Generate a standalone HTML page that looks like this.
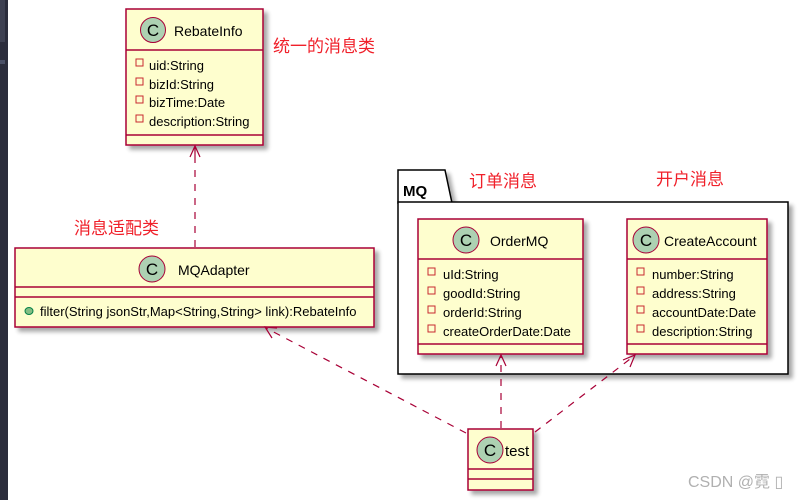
<!DOCTYPE html>
<html><head><meta charset="utf-8"><style>
html,body{margin:0;padding:0;background:#fff;}
svg{display:block;}
text{font-family:"Liberation Sans","Noto Sans CJK SC",sans-serif;}
</style></head><body>
<svg width="809" height="500" viewBox="0 0 809 500" xmlns="http://www.w3.org/2000/svg">
<defs>
<filter id="sh" x="-10%" y="-10%" width="130%" height="130%"><feGaussianBlur in="SourceAlpha" stdDeviation="2"/><feOffset dx="4" dy="4"/><feComponentTransfer><feFuncA type="linear" slope="0.35"/></feComponentTransfer><feMerge><feMergeNode/><feMergeNode in="SourceGraphic"/></feMerge></filter>
</defs>
<rect x="0" y="0" width="809" height="500" fill="#fff"/>
<rect x="0" y="0" width="8" height="500" fill="#2b2d3c"/>
<rect x="0" y="0" width="5" height="42" fill="#3e4152"/>
<rect x="0" y="60" width="5" height="4" fill="#4a5066"/>

<g filter="url(#sh)">
<path d="M398,203 L398,170 L445,170 L452,203 Z" fill="#fff" stroke="#000" stroke-width="1.5"/>
<rect x="398" y="202" width="390" height="172" fill="#fff" stroke="#000" stroke-width="1.5"/>
</g>
<text x="403" y="196" font-size="15" font-weight="bold">MQ</text>

<g filter="url(#sh)"><rect x="126" y="9" width="137" height="136" fill="#fefece" stroke="#a80036" stroke-width="1.5"/></g>
<line x1="126" y1="50" x2="263" y2="50" stroke="#a80036" stroke-width="1.5"/>
<line x1="126" y1="135" x2="263" y2="135" stroke="#a80036" stroke-width="1.5"/>
<circle cx="153" cy="30" r="12.5" fill="#add1b2" stroke="#a80036" stroke-width="1"/>
<text x="153" y="36" font-size="17" text-anchor="middle">C</text>
<text x="174" y="36" font-size="14">RebateInfo</text>
<g font-size="13">
<rect x="136" y="59" width="7" height="7" fill="none" stroke="#c82930"/><text x="149" y="70">uid:String</text>
<rect x="136" y="78" width="7" height="7" fill="none" stroke="#c82930"/><text x="149" y="89">bizId:String</text>
<rect x="136" y="96" width="7" height="7" fill="none" stroke="#c82930"/><text x="149" y="107">bizTime:Date</text>
<rect x="136" y="115" width="7" height="7" fill="none" stroke="#c82930"/><text x="149" y="126">description:String</text>
</g>
<text x="273" y="52" font-size="17" fill="#f0202a">统一的消息类</text>

<g filter="url(#sh)"><rect x="15" y="248" width="359" height="79" fill="#fefece" stroke="#a80036" stroke-width="1.5"/></g>
<line x1="15" y1="287" x2="374" y2="287" stroke="#a80036" stroke-width="1.5"/>
<line x1="15" y1="297" x2="374" y2="297" stroke="#a80036" stroke-width="1.5"/>
<circle cx="152" cy="269" r="13" fill="#add1b2" stroke="#a80036" stroke-width="1"/>
<text x="152" y="275" font-size="17" text-anchor="middle">C</text>
<text x="178" y="275" font-size="14">MQAdapter</text>
<ellipse cx="29" cy="311" rx="4" ry="3.5" fill="#84be84" stroke="#038048"/>
<text x="40" y="316" font-size="13">filter(String jsonStr,Map&lt;String,String&gt; link):RebateInfo</text>
<text x="74" y="234" font-size="17" fill="#f0202a">消息适配类</text>

<g filter="url(#sh)"><rect x="418" y="219" width="165" height="135" fill="#fefece" stroke="#a80036" stroke-width="1.5"/></g>
<line x1="418" y1="259" x2="583" y2="259" stroke="#a80036" stroke-width="1.5"/>
<line x1="418" y1="344" x2="583" y2="344" stroke="#a80036" stroke-width="1.5"/>
<circle cx="466" cy="240" r="13" fill="#add1b2" stroke="#a80036" stroke-width="1"/>
<text x="466" y="246" font-size="17" text-anchor="middle">C</text>
<text x="490" y="246" font-size="14">OrderMQ</text>
<g font-size="13">
<rect x="428" y="268" width="7" height="7" fill="none" stroke="#c82930"/><text x="443" y="279">uId:String</text>
<rect x="428" y="287" width="7" height="7" fill="none" stroke="#c82930"/><text x="443" y="298">goodId:String</text>
<rect x="428" y="306" width="7" height="7" fill="none" stroke="#c82930"/><text x="443" y="317">orderId:String</text>
<rect x="428" y="325" width="7" height="7" fill="none" stroke="#c82930"/><text x="443" y="336">createOrderDate:Date</text>
</g>
<text x="469" y="187" font-size="17" fill="#f0202a">订单消息</text>

<g filter="url(#sh)"><rect x="627" y="219" width="140" height="135" fill="#fefece" stroke="#a80036" stroke-width="1.5"/></g>
<line x1="627" y1="259" x2="767" y2="259" stroke="#a80036" stroke-width="1.5"/>
<line x1="627" y1="344" x2="767" y2="344" stroke="#a80036" stroke-width="1.5"/>
<circle cx="646" cy="240" r="13" fill="#add1b2" stroke="#a80036" stroke-width="1"/>
<text x="646" y="246" font-size="17" text-anchor="middle">C</text>
<text x="664" y="246" font-size="14">CreateAccount</text>
<g font-size="13">
<rect x="637" y="268" width="7" height="7" fill="none" stroke="#c82930"/><text x="652" y="279">number:String</text>
<rect x="637" y="287" width="7" height="7" fill="none" stroke="#c82930"/><text x="652" y="298">address:String</text>
<rect x="637" y="306" width="7" height="7" fill="none" stroke="#c82930"/><text x="652" y="317">accountDate:Date</text>
<rect x="637" y="325" width="7" height="7" fill="none" stroke="#c82930"/><text x="652" y="336">description:String</text>
</g>
<text x="656" y="185" font-size="17" fill="#f0202a">开户消息</text>

<g filter="url(#sh)"><rect x="468" y="429" width="65" height="61" fill="#fefece" stroke="#a80036" stroke-width="1.5"/></g>
<line x1="468" y1="469" x2="533" y2="469" stroke="#a80036" stroke-width="1.5"/>
<line x1="468" y1="479" x2="533" y2="479" stroke="#a80036" stroke-width="1.5"/>
<circle cx="490" cy="450" r="13" fill="#add1b2" stroke="#a80036" stroke-width="1"/>
<text x="490" y="456" font-size="17" text-anchor="middle">C</text>
<text x="505" y="456" font-size="15">test</text>

<g stroke="#a80036" stroke-width="1.2" fill="none">
<line x1="195" y1="247" x2="195" y2="147" stroke-dasharray="7,7"/>
<path d="M190,157 L195,146 L200,157 M195,146 L195,156"/>
<line x1="466" y1="433" x2="266" y2="328" stroke-dasharray="7,7"/>
<path d="M272,338 L265,327 L277,328"/>
<line x1="501" y1="428" x2="501" y2="356" stroke-dasharray="7,7"/>
<path d="M496,366 L501,355 L506,366"/>
<line x1="535" y1="432" x2="634" y2="356" stroke-dasharray="7,7"/>
<path d="M623,360 L635,355 L630,367"/>
</g>

<text x="688" y="487" font-size="16" fill="#b0b0b0">CSDN @霓 ▯</text>
</svg>
</body></html>
